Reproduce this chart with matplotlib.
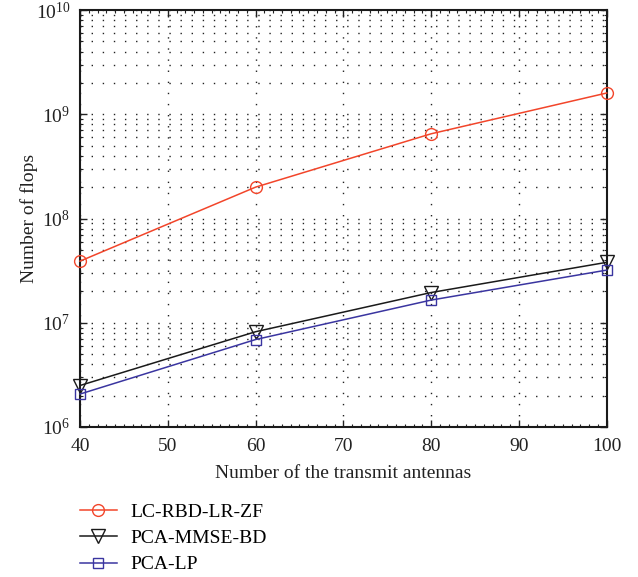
import matplotlib
matplotlib.use('Agg')
import matplotlib.pyplot as plt
from matplotlib.ticker import LogLocator, MultipleLocator, NullFormatter

# Data
antennas = [40, 60, 80, 100]
lc_rbd_lr_zf = [3.9e7, 2.0e8, 6.5e8, 1.6e9]
pca_mmse_bd = [2.5e6, 8.2e6, 1.95e7, 3.8e7]
pca_lp = [2.07e6, 6.9e6, 1.65e7, 3.2e7]
labels = ['LC-RBD-LR-ZF', 'PCA-MMSE-BD', 'PCA-LP']

plt.rcParams['font.family'] = ['Liberation Serif', 'DejaVu Serif']
plt.rcParams['mathtext.fontset'] = 'stix'

fig = plt.figure(figsize=(6.38, 5.77), dpi=100)
ax = fig.add_axes([0.1254, 0.26, 0.8256, 0.7226])

ax.plot(antennas, lc_rbd_lr_zf, color='#f2452a', marker='o', markersize=8.5,
        markerfacecolor='none', linewidth=1.1, label=labels[0], clip_on=False, zorder=5)
ax.plot(antennas, pca_mmse_bd, color='#1a1a1a', marker='v', markersize=9.5,
        markerfacecolor='none', linewidth=1.1, label=labels[1], clip_on=False, zorder=5)
ax.plot(antennas, pca_lp, color='#3a35a0', marker='s', markersize=7,
        markerfacecolor='none', linewidth=1.1, label=labels[2], clip_on=False, zorder=5)

ax.set_yscale('log')
ax.set_xlim(40, 100)
ax.set_ylim(1e6, 1e10)
ax.xaxis.set_major_locator(MultipleLocator(10))
ax.xaxis.set_minor_locator(MultipleLocator(1))
ax.yaxis.set_major_locator(LogLocator(base=10, numticks=10))
ax.yaxis.set_minor_locator(LogLocator(base=10, subs=range(2, 10), numticks=20))
ax.yaxis.set_minor_formatter(NullFormatter())

dots = (0, (1, 7))
ax.grid(True, which='major', linestyle=dots, color='#222222', linewidth=1.0)
ax.grid(True, which='minor', axis='y', linestyle=dots, color='#222222', linewidth=1.0)

ax.tick_params(which='both', direction='in', top=True, right=True, labelsize=14, colors='#222222')
ax.tick_params(which='major', length=5, width=1, pad=8)
ax.tick_params(axis='y', which='major', pad=7)
ax.tick_params(which='minor', length=2.5, width=0.8)
for s in ax.spines.values():
    s.set_linewidth(1.5)
    s.set_color('#1a1a1a')

ax.set_xlabel('Number of the transmit antennas', fontsize=14, color='#222222', labelpad=7)
ax.set_ylabel('Number of flops', fontsize=14, color='#222222', labelpad=-2)

ax.legend(loc='upper left', bbox_to_anchor=(0.125, 0.128), bbox_transform=fig.transFigure,
          frameon=False, fontsize=14, handlelength=1.9, borderpad=0, borderaxespad=0,
          labelspacing=0.45, handletextpad=0.7)

fig.savefig('out.png', dpi=100)
